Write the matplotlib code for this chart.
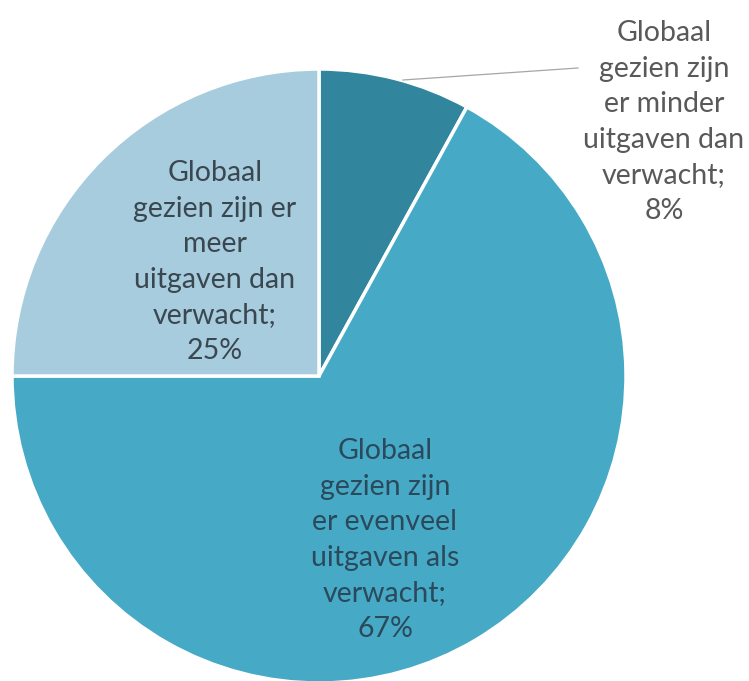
import matplotlib.pyplot as plt

# data
labels = ["Globaal\ngezien zijn\ner minder\nuitgaven dan\nverwacht;\n8%",
          "Globaal\ngezien zijn\ner evenveel\nuitgaven als\nverwacht;\n67%",
          "Globaal\ngezien zijn er\nmeer\nuitgaven dan\nverwacht;\n25%"]
shares = [8, 67, 25]
colors = ["#31859C", "#46AAC6", "#A6CCDE"]

W, H = 749, 681
fig = plt.figure(figsize=(W / 100, H / 100), dpi=100)
ax = fig.add_axes([0, 0, 1, 1])

cx, cy, r = 319, H - 376, 307
wedges, _ = ax.pie(shares, colors=colors, startangle=90, counterclock=False,
                   center=(cx, cy), radius=r,
                   wedgeprops=dict(edgecolor="white", linewidth=2.5))
ax.set_xlim(0, W)
ax.set_ylim(0, H)
ax.set_aspect("equal")
ax.axis("off")

font = dict(family="Lato", fontsize=20.5, ha="center", va="center", linespacing=1.45)

# outside label with leader line
ax.plot([403, 578], [H - 80, H - 68], color="#a6a6a6", lw=0.9)
ax.text(664, H - 122, labels[0], color="#595959", **font)
ax.text(385, H - 540, labels[1], color="#2a4a5c", **font)
ax.text(215, H - 262, labels[2], color="#3b4750", **font)

fig.savefig("out.png", dpi=100)
